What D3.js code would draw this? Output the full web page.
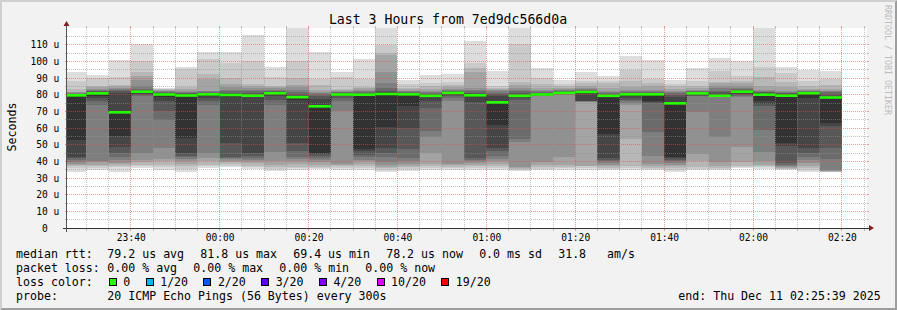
<!DOCTYPE html>
<html><head><meta charset="utf-8">
<script src="https://cdn.jsdelivr.net/npm/d3@7"></script>
<style>
html,body{margin:0;padding:0;background:#f2f2f2;}
svg{display:block;}
text{font-family:"DejaVu Sans Mono",monospace;fill:#000;}
.pre{white-space:pre;}
</style></head><body>
<svg id="c" width="897" height="310"></svg>
<script>
// ---------------- data ----------------
const barTimes = ["23:25","23:30","23:35","23:40","23:45","23:50","23:55",
  "00:00","00:05","00:10","00:15","00:20","00:25","00:30","00:35","00:40","00:45","00:50","00:55",
  "01:00","01:05","01:10","01:15","01:20","01:25","01:30","01:35","01:40","01:45","01:50","01:55",
  "02:00","02:05","02:10","02:15"];
// 20 sorted ping RTTs per 5-minute step (microseconds)
const pings = [
 [33.6,36,37,37.8,38.5,39.5,41,42,42.8,52.8,79.6,80.1,80.4,80.7,81,81.4,81.8,83.2,88.4,93.8],
 [34.8,36,37,38,39.4,40.4,74,76,78,79.5,80.8,81.5,82,82.5,83,83.4,84.5,85.4,89.8,91.8],
 [33.8,36.4,37.5,38.2,39.2,41,42.8,45.2,48.4,55,69.4,81.2,82,82.8,83.4,84,85,86,90.4,100.8],
 [36,37,38,39.4,41,45.2,79,80,80.5,81.2,81.8,82.5,83,83.4,85,88.8,91.4,93.4,100,110.4],
 [35,36.4,38,40,41.2,47.8,65,70,76,78.5,80.1,80.8,81.2,81.6,82,82.4,82.8,83.2,83.5,83.8],
 [33.8,35.5,37,38.5,40,41.2,42.5,43.5,45,54,79.5,80.3,80.8,81.3,81.8,82.5,83.4,84.4,95.4,96.8],
 [36,37,38,40.4,42,45.2,74,76,78,79.5,80.2,80.8,81.2,81.6,82,82.4,89.4,92.4,101.6,105.4],
 [36.5,37.5,38.5,39.4,40.5,41.5,42,42.8,50.8,78.5,79.8,80.5,81,82,83,84.4,86.5,89.8,98.8,105.6],
 [35.4,36.5,37.4,39,40.5,41,42,43,44.8,78.8,79.4,80,81,82,83,84,85,86.4,100.3,115.8],
 [34.4,35.5,36.4,38,40,45.4,74,77,79,80.3,80.9,81.5,82,82.5,83,84,84.6,85.4,90.4,96.6],
 [34.8,35.8,36.8,38.5,40,41.5,42.8,46,50.8,77,78.5,79.5,80.5,81.5,83,84.5,86,90,100,121],
 [35.2,36,36.8,38,39.5,40.8,42,43,44.5,44.8,73,77.4,79.4,80.5,81,81.4,83,86,89.4,105.4],
 [35,36,37,37.8,38.4,70,76,78,79,79.6,80.1,80.6,81,81.4,81.8,82.4,83,83.4,90.4,93.8],
 [35,36,37,38.5,40,41,42.5,44,46,47.6,80,80.6,81,81.5,82,83,83.8,84.4,89.6,101.4],
 [33.8,35,36,36.8,38,39.5,42.8,45,47.8,60.8,80.4,81.5,82.5,83.8,86.8,93.8,103.8,105,109.8,122],
 [34.4,35.5,36.5,37.5,38.4,40,42,47.5,60,73.4,80.2,80.8,81.2,81.6,82,82.5,83.2,84,86.4,88.8],
 [34.8,36,37,38.4,45,54.8,58.5,72,76,78.5,79.3,80,80.5,81,81.5,82.5,83.5,85.4,87,91.8],
 [34.8,35.8,36.8,37.8,38.5,76,78,79,80,80.6,81.1,81.6,82,82.4,82.8,83.5,84.5,86,87.4,92.4],
 [35,36,37,38,39,40,41,41.8,75.4,78.5,79.6,80.2,81,82,83,83.8,93.8,96,99.3,112.2],
 [35,36,37,38.5,40,41.5,43,46,48,62,75.4,79.4,80.5,81.2,82,82.6,83.2,84,85.4,94.4],
 [34.5,35,35.5,36,36.5,51.4,53.6,77,78,78.7,79.3,80,81,82,83,84,85.8,87.4,110.4,121],
 [34.8,35.5,36.5,38,39.6,79,79.3,79.5,79.7,79.9,80.1,80.5,81,81.5,82,83,84,86.4,90,96],
 [35,36,36.4,38,42.4,80,80.3,80.5,80.7,80.9,81.1,81.5,82,82.5,83,83.5,84,85,86.4,88.8],
 [35,36,37,37.4,75.5,75.8,76,76.2,76.5,80.5,81.6,82,82.5,83,83.5,84,85,86.8,88,93.8],
 [34.6,35.5,36,37,38,39,40,41,41.8,56.5,79.3,80,80.5,81,81.5,82.5,84,86.8,88,91],
 [35,36,37.4,53.4,74,75,76,77,78,79,80.2,80.8,81.3,81.7,82,83,84.4,88,94.6,103.3],
 [34.8,35.4,36,37,38.4,43.4,57.4,75,75.5,76,80.2,80.6,81,81.4,82,83,85,87,89.6,100.8],
 [33.8,35,36,37,38,39,40,41,42,42.4,74.8,78.5,80,81,81.5,82.2,83.5,85,86.2,88.8],
 [34.8,35.5,36.5,40,44.4,69.5,79,79.5,79.8,80.2,80.8,81.3,81.7,82,82.5,83,84,85.5,88,96],
 [34.6,35.3,36,37.5,39.6,54.6,78.5,78.7,78.9,79.1,79.3,80.5,81.5,82.5,84,85.4,86.8,87.4,94.4,102],
 [35.8,36.4,37.4,39.4,48.4,78.5,79.5,80,80.5,81.2,81.8,82.5,83,83.5,84,85.5,86.8,88,91.4,100.2],
 [35.6,36.4,37.4,38,40,45.6,58.8,73.5,74.4,76,80,80.8,81.4,81.8,82.2,83,85,90.6,96.6,121.5],
 [34.8,35.2,35.6,36,36.4,37,37.8,38.8,49,51,79.4,80.2,80.8,81.3,81.8,82.4,84.5,87.4,92.8,96.8],
 [33.6,35,36,37.5,39,41,42.4,45,47.8,78,80.9,81.3,81.7,82,82.5,83,83.5,85.5,88.4,95],
 [33.4,33.6,33.8,34,34.4,34.8,41.4,47.8,61,62.8,78.3,79.5,80.5,81.5,82,82.5,83.4,86,89.4,94.4]
];
const medians = [79.6,80.8,69.4,81.8,80.1,79.5,80.2,79.8,79.4,80.9,78.5,73,80.1,80,80.4,80.2,79.3,81.1,79.6,
  75.4,79.3,80.1,81.1,81.6,79.3,80.2,80.2,74.8,80.8,79.3,81.8,80,79.4,80.9,78.3];
const yTicks = [0,10,20,30,40,50,60,70,80,90,100,110];
const yTickLabels = ["0","10 u","20 u","30 u","40 u","50 u","60 u","70 u","80 u","90 u","100 u","110 u"];
const xTickLabels = ["23:40","00:00","00:20","00:40","01:00","01:20","01:40","02:00","02:20"];
const rttStats = ["79.2 us avg","81.8 us max","69.4 us min","78.2 us now","0.0 ms sd","31.8   am/s"];
const lossStats = ["0.00 % avg","0.00 % max","0.00 % min","0.00 % now"];
const lossLabels = ["0","1/20","2/20","3/20","4/20","10/20","19/20"];
const lossColors = ["#26ff00","#00b8ff","#0059ff","#5e00ff","#7e00ff","#dd00ff","#ff0000"];
const titleText = "Last 3 Hours from 7ed9dc566d0a";
const probeText = "20 ICMP Echo Pings (56 Bytes) every 300s";
const endText = "end: Thu Dec 11 02:25:39 2025";

// ---------------- drawing ----------------
const svg = d3.select("#c");
const W = 897, H = 310, X0 = 67, X1 = 867, Y0 = 228, Y1 = 28;
function parseT(s){ const [h,m] = s.split(":").map(Number); return new Date(Date.UTC(2025,11,h>=12?10:11,h,m,0)); }
const tStart = new Date(Date.UTC(2025,11,10,23,25,39));
const tEnd = new Date(Date.UTC(2025,11,11,2,25,39));
const x = d3.scaleUtc().domain([tStart,tEnd]).range([X0,X1]);
const y = d3.scaleLinear().domain([0,120]).range([Y0,Y1]);
const snap = v => Math.round(v-0.5)+0.5;

// background + 3d border
svg.append("rect").attr("width",W).attr("height",H).attr("fill","#f2f2f2");
svg.append("path").attr("d",`M0,${H}L2,${H-2}L2,2L${W-2},2L${W},0L0,0Z`).attr("fill","#cfcfcf");
svg.append("path").attr("d",`M2,${H-2}L${W-2},${H-2}L${W-2},2L${W},0L${W},${H}L0,${H}Z`).attr("fill","#9e9e9e");

// canvas
svg.append("rect").attr("x",X0).attr("y",Y1).attr("width",X1-X0).attr("height",Y0-Y1).attr("fill","#fff");
svg.append("clipPath").attr("id","plot").append("rect").attr("x",X0).attr("y",Y1).attr("width",X1-X0).attr("height",Y0-Y1);

// smoke
const smoke = svg.append("g").attr("clip-path","url(#plot)").attr("shape-rendering","crispEdges");
pings.forEach((p,i)=>{
  const t0 = parseT(barTimes[i]), t1 = new Date(+t0+300000);
  const xa = x(t0), xb = x(t1);
  for(let k=0;k<10;k++){
    const c = Math.floor(190/10*(10-(k+1)))+50;
    smoke.append("rect").attr("x",xa).attr("width",xb-xa)
      .attr("y",y(p[19-k])).attr("height",y(p[k])-y(p[19-k]))
      .attr("fill",d3.rgb(c,c,c));
  }
});

// median dark step line
const medPts = medians.map((m,i)=>[x(parseT(barTimes[i])),y(m)]);
medPts.push([x(new Date(+parseT(barTimes[barTimes.length-1])+300000)), y(medians[medians.length-1])]);
svg.append("path").attr("clip-path","url(#plot)")
  .attr("d",d3.line().curve(d3.curveStepAfter)(medPts))
  .attr("fill","none").attr("stroke","#202020").attr("stroke-width",1);

// grid
const grid = svg.append("g");
const GC = "rgba(143,143,143,0.55)", MC = "rgba(222,79,79,0.55)";
function hline(v,col){
  const py = snap(y(v));
  grid.append("line").attr("x1",X0).attr("x2",X1).attr("y1",py).attr("y2",py)
    .attr("stroke",col).attr("stroke-dasharray","1,1");
  grid.append("line").attr("x1",X0-2).attr("x2",X0).attr("y1",py).attr("y2",py).attr("stroke",col);
  grid.append("line").attr("x1",X1).attr("x2",X1+2).attr("y1",py).attr("y2",py).attr("stroke",col);
}
function vline(t,col){
  const px = snap(x(t));
  grid.append("line").attr("x1",px).attr("x2",px).attr("y1",Y1).attr("y2",Y0)
    .attr("stroke",col).attr("stroke-dasharray","1,1");
  grid.append("line").attr("x1",px).attr("x2",px).attr("y1",Y0).attr("y2",Y0+3).attr("stroke",col);
  grid.append("line").attr("x1",px).attr("x2",px).attr("y1",Y1-2).attr("y2",Y1).attr("stroke",col);
}
y.ticks(24).filter(v=>v>0 && v<120 && v%10!==0).forEach(v=>hline(v,GC));
y.ticks(24).filter(v=>v>0 && v<120 && v%10===0).forEach(v=>hline(v,MC));
const minorT = d3.utcMinute.every(5).range(tStart,tEnd);
minorT.filter(t=>t.getUTCMinutes()%20!==0).forEach(t=>vline(t,GC));
minorT.filter(t=>t.getUTCMinutes()%20===0).forEach(t=>vline(t,MC));

// green median bands
const band = svg.append("g").attr("clip-path","url(#plot)");
medians.forEach((m,i)=>{
  const t0 = parseT(barTimes[i]), t1 = new Date(+t0+300000);
  band.append("rect").attr("x",x(t0)).attr("width",x(t1)-x(t0))
    .attr("y",y(m)-1.3).attr("height",2.6).attr("fill",lossColors[0]);
});

// axes lines and arrows
svg.append("line").attr("x1",X0-4).attr("x2",X1+4).attr("y1",Y0+0.5).attr("y2",Y0+0.5).attr("stroke","#333");
svg.append("line").attr("x1",X0-0.5).attr("x2",X0-0.5).attr("y1",Y0+4).attr("y2",Y1-4).attr("stroke","#555");
svg.append("path").attr("d",`M${X1+2},${Y0-3}L${X1+2},${Y0+3}L${X1+7},${Y0}Z`).attr("fill","#801f1f");
svg.append("path").attr("d",`M${X0-3.5},${Y1-2}L${X0+2.5},${Y1-2}L${X0-0.5},${Y1-7}Z`).attr("fill","#801f1f");

// axis labels via d3 axes
const yAx = svg.append("g").attr("transform",`translate(${X0},0)`)
  .call(d3.axisLeft(y).tickValues(yTicks).tickFormat((d,i)=>yTickLabels[i]).tickSize(0).tickPadding(7.7));
yAx.select(".domain").remove();
yAx.selectAll("text").style("font-family","'DejaVu Sans Mono',monospace").style("font-size","9.6px").attr("fill","#000");
yAx.selectAll("text").filter(d=>d===0).attr("dx",-11.6);
const xTickDates = xTickLabels.map(parseT);
const xAx = svg.append("g").attr("transform",`translate(0,${Y0})`)
  .call(d3.axisBottom(x).tickValues(xTickDates).tickFormat((d,i)=>xTickLabels[i]).tickSize(0).tickPadding(6.3));
xAx.select(".domain").remove();
xAx.selectAll("text").style("font-family","'DejaVu Sans Mono',monospace").style("font-size","9.6px").attr("fill","#000");

// title, y label, watermark
svg.append("text").attr("x",448).attr("y",24).attr("text-anchor","middle").style("font-size","13.2px").text(titleText);
svg.append("text").attr("transform","translate(15.5,127) rotate(-90)").attr("text-anchor","middle").style("font-size","11.6px").text("Seconds");
svg.append("text").attr("transform","translate(885,5) rotate(90)").style("font-size","8.3px").attr("fill","#bdbdbd").style("fill","#bdbdbd").text("RRDTOOL / TOBI OETIKER");

// legend
const CW = 6.96, FS = "11.6px";
function txt(xp,yp,s){ return svg.append("text").attr("class","pre").attr("x",xp).attr("y",yp).style("font-size",FS).text(s); }
txt(16,258,"median rtt:");
let lx = 107.3;
rttStats.forEach(s=>{ txt(lx,258,s); lx += s.length*CW + 16.4; });
txt(16,272,"packet loss:");
lx = 107.3;
lossStats.forEach(s=>{ txt(lx,272,s); lx += s.length*CW + 16.4; });
txt(16,286,"loss color:");
lx = 108.7;
lossLabels.forEach((s,i)=>{
  svg.append("rect").attr("x",Math.round(lx)+0.5).attr("y",278.5).attr("width",7).attr("height",7)
    .attr("fill",lossColors[i]).attr("stroke","#000").attr("stroke-width",1);
  txt(lx+14.6,286,s);
  lx += 14.6 + s.length*CW + 15.3;
});
txt(16,300,"probe:");
txt(107.3,300,probeText);
txt(678.3,300,endText);
</script>
</body></html>
